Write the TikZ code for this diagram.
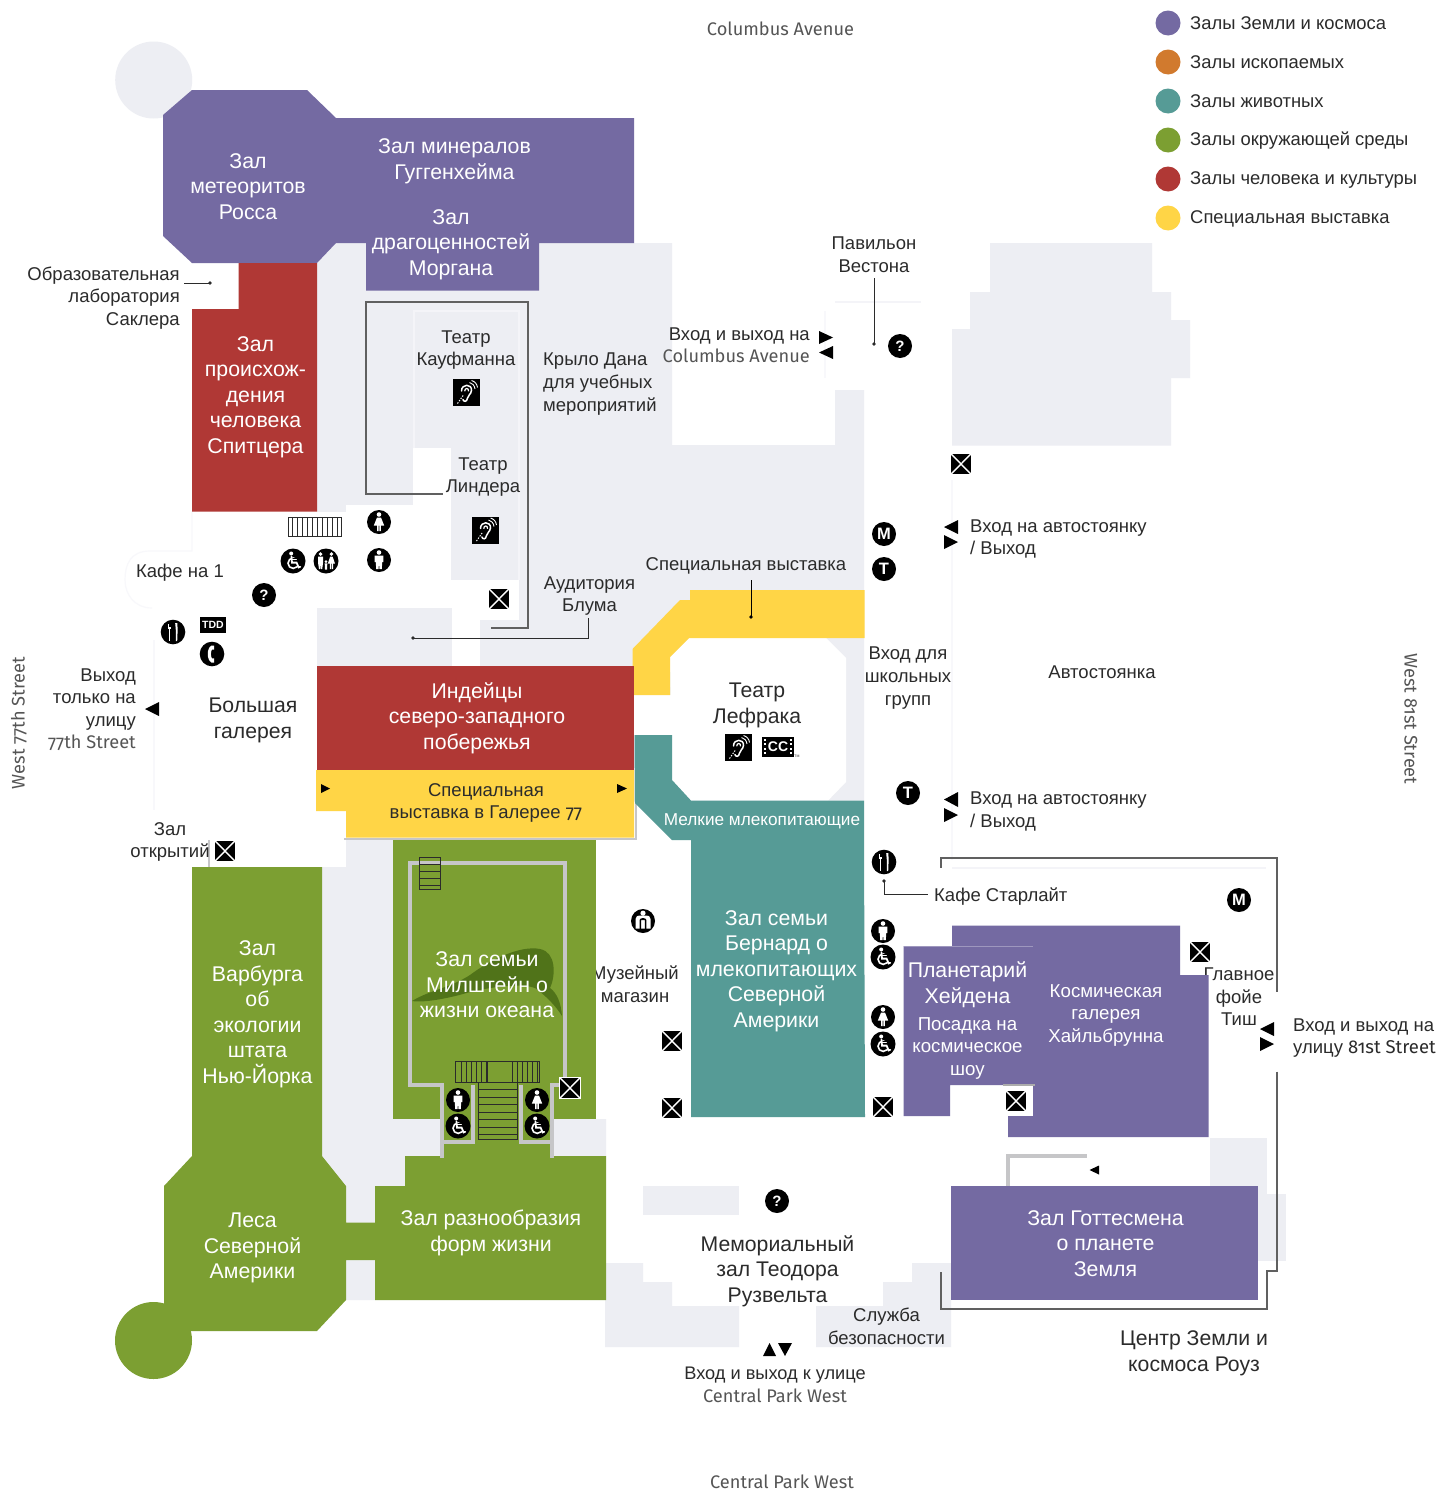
\documentclass[tikz,border=0pt]{standalone}
\usepackage{fontspec}
\setmainfont{Liberation Sans}
\newfontfamily\streetf[Numbers=OldStyle]{Fira Sans}
\definecolor{floorg}{HTML}{EDEEF3}
\definecolor{cpur}{HTML}{746AA2}
\definecolor{cred}{HTML}{B03835}
\definecolor{cyel}{HTML}{FFD546}
\definecolor{cteal}{HTML}{569B96}
\definecolor{cgrn}{HTML}{7C9F32}
\definecolor{corg}{HTML}{D17A2E}
\definecolor{cwhale}{HTML}{507319}
\definecolor{wallg}{HTML}{C6C6C8}
\definecolor{ink}{HTML}{2B2B2B}
\definecolor{faintl}{HTML}{F4F4F8}
\definecolor{fainter}{HTML}{F8F8FB}
\tikzset{
 x=1pt,y=-1pt,
 whitel/.style={text=white,align=center,inner sep=0pt,yshift=-2.2pt,font=\fontsize{21.3}{25.5}\selectfont},
 whites/.style={text=white,align=center,inner sep=0pt,yshift=-2pt,font=\fontsize{18.7}{22.7}\selectfont},
 blackl/.style={text=ink,align=center,inner sep=0pt,yshift=-2.2pt,font=\fontsize{21.2}{25.5}\selectfont},
 blacks/.style={text=ink,align=center,inner sep=0pt,yshift=-2pt,font=\fontsize{18.5}{22.7}\selectfont},
 blackr/.style={blacks,align=right,anchor=east},
 blackle/.style={blacks,align=left,anchor=west},
 legendt/.style={text=ink,align=left,anchor=west,inner sep=0pt,yshift=-.6pt,font=\fontsize{18.4}{22.7}\selectfont},
 streetl/.style={text=ink!80,inner sep=0pt,font=\streetf\fontsize{18.2}{22}\selectfont},
 leader/.style={draw=ink,line width=1pt},
 outl/.style={draw=ink!75,line width=1.1pt},
 wall/.style={draw=wallg,line width=3.2pt},
 faint/.style={draw=faintl,line width=1.2pt},
 fnt/.style={draw=fainter,line width=1.2pt},
 tri/.style={fill=black},
 stairl/.style={draw=ink,line width=.9pt},
 lg/.style={circle,inner sep=0pt,minimum size=25pt},
 wln/.style={draw=white,line width=1.5pt,line cap=round},
 pics/manico/.style={code={
   \fill[black] (0,0) circle[radius=12pt];
   \fill[white] (0,-7.5) circle[radius=2.3pt];
   \fill[white] (-4.4,-4.4) -- (4.4,-4.4) -- (4.4,2.2) -- (3.2,2.2) -- (2.8,9) -- (.5,9) -- (0,3) -- (-.5,9) -- (-2.8,9) -- (-3.2,2.2) -- (-4.4,2.2) -- cycle;}},
 pics/womanico/.style={code={
   \fill[black] (0,0) circle[radius=12pt];
   \fill[white] (0,-7.5) circle[radius=2.3pt];
   \fill[white] (-2,-4.4) -- (2,-4.4) -- (5.2,3.6) -- (1.9,3.6) -- (1.9,9) -- (.4,9) -- (.4,3.6) -- (-.4,3.6) -- (-.4,9) -- (-1.9,9) -- (-1.9,3.6) -- (-5.2,3.6) -- cycle;}},
 pics/wheelico/.style={code={
   \fill[black] (0,0) circle[radius=12.5pt];
   \fill[white] (-1.8,-7.5) circle[radius=2pt];
   \draw[white,line width=1.6pt] (0.2,2.2) circle[radius=5.2pt];
   \fill[black] (-1.4,-3) rectangle (7,3.6);
   \fill[black] (1.5,2) rectangle (7,5);
   \draw[wln,line width=1.8pt] (-1.6,-4.5) -- (-1,1.6) -- (3.6,1.6) -- (5.6,6.4) -- (7.2,5.8);
   \draw[wln,line width=1.4pt] (-1.3,-1.6) -- (3.2,-1.6);}},
 pics/familyico/.style={code={
   \fill[black] (0,0) circle[radius=12.5pt];
   \foreach \hx in {-5.4,5.4}{\fill[white] (\hx,-7) circle[radius=1.9pt];}
   \fill[white] (0,.6) circle[radius=1.4pt];
   \fill[white] (-8,-4.4) -- (-2.9,-4.4) -- (-2.9,1.5) -- (-3.8,8) -- (-5,8) -- (-5.4,3) -- (-5.8,8) -- (-7,8) -- (-8,1.5) -- cycle;
   \fill[white] (4.2,-4.4) -- (6.6,-4.4) -- (9,2.6) -- (7,2.6) -- (7,8) -- (5.8,8) -- (5.8,2.6) -- (5,2.6) -- (5,8) -- (3.8,8) -- (3.8,2.6) -- (1.8,2.6) -- cycle;
   \fill[white] (-1.3,2.4) -- (1.3,2.4) -- (1,8.5) -- (-1,8.5) -- cycle;}},
 pics/infoico/.style={code={
   \fill[black] (0,0) circle[radius=12pt];
   \node[text=white,inner sep=0pt,font=\bfseries\fontsize{15}{15}\selectfont] {?};}},
 pics/letterico/.style={code={
   \fill[black] (0,0) circle[radius=12pt];
   \node[text=white,inner sep=0pt,font=\bfseries\fontsize{16.5}{16}\selectfont] {#1};}},
 pics/foodico/.style={code={
   \fill[black] (0,0) circle[radius=12.3pt];
   \fill[white] (-5.4,-8) rectangle (-1.8,-2.6);
   \fill[black] (-4.2,-8.2) rectangle (-3.8,-4.6);
   \fill[black] (-3.1,-8.2) rectangle (-2.7,-4.6);
   \fill[white] (-4.2,-3) rectangle (-3,9);
   \fill[white] (2.2,-9) -- (4.4,-9) -- (4.6,-1) -- (4.2,9) -- (2.9,9) -- (2.9,-1) -- cycle;}},
 pics/phoneico/.style={code={
   \fill[black] (0,0) circle[radius=12.3pt];
   \fill[white] (-.5,-8.5) .. controls (-5.5,-6) and (-5.5,6) .. (-.5,8.5) -- (2.2,8.5) -- (2.2,4.4) -- (-.1,4.4) .. controls (-1.4,2) and (-1.4,-2) .. (-.1,-4.4) -- (2.2,-4.4) -- (2.2,-8.5) -- cycle;}},
 pics/shopico/.style={code={
   \fill[black] (0,0) circle[radius=12pt];
   \fill[white] (-7.5,7.5) -- (-7.5,-2) .. controls (-7.5,-5) and (-5,-5.5) .. (-3.5,-5.5) -- (3.5,-5.5) .. controls (5,-5.5) and (7.5,-5) .. (7.5,-2) -- (7.5,7.5) -- cycle;
   \fill[white] (0,-7.8) circle[radius=2.6pt];
   \fill[black] (-3.4,8) -- (-3.4,-1) .. controls (-3.4,-3.6) and (3.4,-3.6) .. (3.4,-1) -- (3.4,8) -- (1.8,8) -- (1.8,-.8) -- (-1.8,-.8) -- (-1.8,8) -- cycle;}},
 pics/earico/.style={code={
   \fill[black] (-13.5,-13.5) rectangle (13.5,13.5);
   \draw[white,line width=1.5pt,line cap=round] (-5,-1.5) .. controls (-5,-9) and (5.5,-9) .. (5,-2) .. controls (4.6,2) and (1,3) .. (.8,6) .. controls (.6,9.5) and (-3,9.5) .. (-3.6,7);
   \draw[white,line width=1.2pt] (-1.8,-1.2) .. controls (-1.8,-5) and (2.5,-5) .. (2,-1.2);
   \draw[white,line width=1pt,dash pattern=on 1.4pt off 1.4pt] (-9,11) -- (-3.4,3);
   \draw[white,line width=.9pt] (3,-10) .. controls (6,-9.5) and (8,-7) .. (8.5,-3.5);
   \draw[white,line width=.9pt] (5,-12) .. controls (8.5,-11) and (10.5,-8.5) .. (11,-5);}},
 pics/liftico/.style={code={
   \fill[black] (-10.3,-10.5) rectangle (10.3,10.5);
   \draw[white,line width=.9pt] (-10.3,-10.5) rectangle (10.3,10.5);
   \draw[white,line width=1.4pt] (-10,-10.2) -- (10,10.2);
   \draw[white,line width=1.4pt] (10,-10.2) -- (-10,10.2);}},
}
\begin{document}
\begin{tikzpicture}
\useasboundingbox (0,0) rectangle (1437,1491);
\fill[white] (0,0) rectangle (1437,1491);

% ---- grey floor
\fill[floorg] (153.7,80) circle[radius=38.5pt];
\fill[floorg] (317,243) -- (672,243) -- (672,445) -- (835,445) -- (835,390) -- (864,390) -- (864,800.6) -- (634,800.6) -- (634,666) -- (317,666) -- cycle;
\fill[white] (413,448) rectangle (451,505);
\fill[white] (346,505) rectangle (451,580);
\fill[white] (317,511.5) rectangle (346,608);
\fill[white] (346,580) rectangle (519,608);
\fill[white] (452,608) rectangle (480,666);
\fill[white] (480,608) rectangle (519,620);
\fill[white] (634,695) rectangle (672,735);
\fill[white] (689,638) -- (826,638) -- (846,658) -- (846,782) -- (828,800.6) -- (691,800.6) -- (672,780) -- (670,657) -- cycle;
\draw[faint] (414,448) -- (414,311) -- (519,311) -- (519,580);
\fill[floorg] (322,867) -- (346,867) -- (346,840) -- (393,840) -- (393,1119) -- (606,1119) -- (606,1156) -- (405,1156) -- (405,1186) -- (375,1186) -- (375,1300) -- (346,1300) -- (346,1186) -- (322,1156) -- cycle;
\fill[floorg] (990,243) -- (1152,243) -- (1152,292) -- (1171,292) -- (1171,320) -- (1190,320) -- (1190,378) -- (1171,378) -- (1171,445.7) -- (952,445.7) -- (952,329) -- (970,329) -- (970,292) -- (990,292) -- cycle;
\fill[floorg] (643,1186) rectangle (739,1215);
\fill[floorg] (605,1263) -- (643,1263) -- (643,1282) -- (672,1282) -- (672,1306) -- (739,1306) -- (739,1347) -- (605,1347) -- cycle;
\fill[floorg] (912,1263) -- (951,1263) -- (951,1347) -- (816,1347) -- (816,1306) -- (883,1306) -- (883,1282) -- (912,1282) -- cycle;
\fill[floorg] (1210,1138) rectangle (1267,1186);
\fill[floorg] (1258,1186) rectangle (1267,1194);
\fill[floorg] (1258,1194) rectangle (1286,1261);
\draw[faint] (835,302) -- (921,302);
\draw[fnt] (825,311) -- (825,378);
\draw[fnt] (154,640) -- (154,810);
\draw[fnt] (952,480) -- (952,860);
\draw[faint] (952,868) -- (1266,868);
\draw[fnt] (192,511) -- (192,551) -- (150,551) .. controls (130,551) and (125,565) .. (125,580) .. controls (125,595) and (135,608) .. (152,608);

% ---- labels that the coloured halls overlap
\node[blacks] (lshop) at (635,982.5) {Музейный\\магазин};
\node[blacks] (llobby) at (1239,994.7) {Главное\\фойе\\Тиш};

% ---- halls
\fill[cpur] (192,90) -- (307,90) -- (336,118) -- (634,118) -- (634,243) -- (539,243) -- (539,290.5) -- (366,290.5) -- (366,243) -- (336,243) -- (317,263) -- (192,263) -- (163,236) -- (163,115) -- cycle;
\fill[cred] (238.5,263) -- (317,263) -- (317,511.5) -- (192,511.5) -- (192,309) -- (238.5,309) -- cycle;
\fill[cyel] (690,590) -- (864.5,590) -- (864.5,638) -- (689,638) -- (670,657) -- (670,695) -- (632.5,695) -- (632.5,649) -- (680,600) -- (690,600) -- cycle;
\fill[cred] (317,666) rectangle (634,770);
\fill[cyel] (316,770) -- (634,770) -- (634,837.5) -- (346,837.5) -- (346,811) -- (316,811) -- cycle;
\draw[wall,line width=2.4pt] (344,839) -- (636,839) -- (636,802);
\fill[cteal] (634.5,735) -- (672,735) -- (672,780) -- (691,800.6) -- (864,800.6) -- (864,839) -- (865,1117) -- (691,1117) -- (691,840) -- (672,840) -- (635,803) -- cycle;
\fill[cgrn] (192,867) -- (322,867) -- (322,1156) -- (346,1186) -- (346,1222.5) -- (375,1222.5) -- (375,1186) -- (405,1186) -- (405,1156) -- (606,1156) -- (606,1300) -- (375,1300) -- (375,1260) -- (346,1260) -- (346,1300) -- (317,1331) -- (164,1331) -- (164,1186) -- (192,1156) -- cycle;
\fill[cgrn] (153.5,1340.5) circle[radius=38.5pt];
\fill[cgrn] (393,840) rectangle (596,1119);
\fill[cgrn] (442,1119) rectangle (553,1156);
\fill[cpur] (952,925.7) -- (1180,925.7) -- (1180,975) -- (1208.7,975) -- (1208.7,1137) -- (1008,1137) -- (1008,1116) -- (1033,1116) -- (1033,1085) -- (950,1085) -- (950,1116) -- (903.5,1116) -- (903.5,946) -- (952,946) -- cycle;
\draw[cpur!70!white,line width=.8pt] (904,946) -- (1033,946);
\draw[draw=gray!65,line width=2.4pt] (1003,1085) -- (1034.5,1085);
\fill[cpur] (951,1186) rectangle (1258,1300);

% ---- whale
\fill[cwhale] (412,1001) .. controls (430,990) and (450,988) .. (470,975) .. controls (490,960) and (520,945) .. (540,949) .. controls (556,952) and (556,975) .. (550,988) .. controls (557,993) and (561,1003) .. (562,1016) .. controls (556,1006) and (545,995) .. (535,988) .. controls (525,984) and (500,985) .. (470,992) .. controls (450,998) and (425,1003) .. (412,1001) -- cycle;

% ---- inner walls
\draw[wall] (442,1158) -- (442,1085) -- (410,1085) -- (410,863) -- (565,863) -- (565,1080);
\draw[wall] (552,1158) -- (552,1085) -- (566,1085);
\draw[wall] (442,1142) -- (473,1142) -- (473,1085);
\draw[wall] (552,1142) -- (521,1142) -- (521,1085);
\draw[wall] (1008,1186) -- (1008,1156) -- (1087,1156);
\draw[wall,line width=2.4pt] (209,840) -- (209,867);

% ---- outlines
\draw[outl] (442.5,494) -- (366,494) -- (366,302) -- (528,302) -- (528,628) -- (491,628);
\draw[outl] (941,867.7) -- (941,858) -- (1277,858) -- (1277,991.7);
\draw[outl] (1277,1071.7) -- (1277,1271) -- (1267,1271) -- (1267,1309) -- (941,1309) -- (941,1271.7);

% ---- stairs
\draw[stairl,fill=white] (288,517) rectangle (341.5,536.5);
\foreach \sx in {292,297,...,337}{\draw[stairl] (\sx,517) -- (\sx,536.5);}
\draw[stairl] (419,857) rectangle (440.7,889);
\foreach \sy in {864,871,878,885}{\draw[stairl] (419,\sy) -- (440.7,\sy);}
\draw[stairl] (455,1061) rectangle (539,1082);
\foreach \sx in {461,466,...,486,512,517,...,537}{\draw[stairl] (\sx,1061) -- (\sx,1082);}
\draw[stairl] (487,1061) -- (487,1082);
\draw[stairl] (478,1082) rectangle (517,1139);
\foreach \sy in {1089.5,1097,...,1135}{\draw[stairl] (478,\sy) -- (517,\sy);}

% ---- street names and legend
\node[streetl] (avecol) at (780.5,29) {Columbus Avenue};
\node[streetl] (avecpw) at (782,1482) {Central Park West};
\node[streetl,rotate=90] (st77) at (19,723) {West 77th Street};
\node[streetl,rotate=-90] (st81) at (1411,719) {West 81st Street};
\foreach \ly/\lc/\lt in {23/cpur/Залы Земли и космоса,62/corg/Залы ископаемых,101/cteal/Залы животных,140/cgrn/Залы окружающей среды,179/cred/Залы человека и культуры,218/cyel/Специальная выставка}{
  \node[lg,fill=\lc] at (1168,\ly) {};
  \node[legendt] at (1190,\ly) {\lt};
}

% ---- hall names
\node[whitel] (ross) at (248,184) {Зал\\метеоритов\\Росса};
\node[whitel] (gugg) at (454.5,159.3) {Зал минералов\\Гуггенхейма};
\node[whitel] (morg) at (451,242.3) {Зал\\драгоценностей\\Моргана};
\node[whitel] (spit) at (255.5,394.6) {Зал\\происхож-\\дения\\человека\\Спитцера};
\node[whitel] (indn) at (477,716) {Индейцы\\северо-западного\\побережья};
\node[whites,font=\fontsize{17.2}{20}\selectfont] (smam) at (762,819) {Мелкие млекопитающие};
\node[whitel] (bern) at (776.5,969) {Зал семьи\\Бернард о\\млекопитающих\\Северной\\Америки};
\node[whitel] (milst) at (487,982.5) {Зал семьи\\Милштейн о\\жизни океана};
\node[whitel] (warb) at (257.5,1012) {Зал\\Варбурга\\об\\экологии\\штата\\Нью-Йорка};
\node[whitel] (lesa) at (252.5,1246) {Леса\\Северной\\Америки};
\node[whitel] (biod) at (491,1230.7) {Зал разнообразия\\форм жизни};
\node[whitel] (hayd) at (967.5,982.7) {Планетарий\\Хейдена};
\node[whites] (board) at (967.5,1046.2) {Посадка на\\космическое\\шоу};
\node[whites] (heil) at (1106,1013.2) {Космическая\\галерея\\Хайльбрунна};
\node[whitel] (gott) at (1105.5,1241) {Зал Готтесмена\\о планете\\Земля};

% ---- black labels
\node[blackr] (sack) at (180,296) {Образовательная\\лаборатория\\Саклера};
\node[blacks] (kauf) at (466,348) {Театр\\Кауфманна};
\node[blacks] (lind) at (483,475) {Театр\\Линдера};
\node[blackle] (dana) at (543,382) {Крыло Дана\\для учебных\\мероприятий};
\node[blackr] (colin) at (810,334) {Вход и выход на};
\node[streetl,anchor=east] (colst) at (810,356) {Columbus Avenue};
\node[blacks] (west) at (874,253) {Павильон\\Вестона};
\node[blackle] (park1) at (970,537) {Вход на автостоянку\\/ Выход};
\node[blacks] (spec) at (746,564) {Специальная выставка};
\node[blacks] (blum) at (589.5,594) {Аудитория\\Блума};
\node[blacks] (cafe) at (180,571) {Кафе на 1};
\node[blackr] (exit) at (136,697.5) {Выход\\только на\\улицу};
\node[streetl,anchor=east] (exit77) at (136,743) {77th Street};
\node[blackl] (bolsh) at (253,718) {Большая\\галерея};
\node[blacks] (g77) at (486,801) {Специальная\\выставка в Галерее {\streetf 77}};
\node[blackl] (lefr) at (757,703) {Театр\\Лефрака};
\node[blacks] (schl) at (908,676) {Вход для\\школьных\\групп};
\node[blacks] (parkg) at (1102,670) {Автостоянка};
\node[blackle] (park2) at (970,809.7) {Вход на автостоянку\\/ Выход};
\node[blacks] (opnh) at (170,840) {Зал\\открытий};
\node[blackle] (star) at (934,895) {Кафе Старлайт};
\node[blackl] (roos) at (777.5,1268.8) {Мемориальный\\зал Теодора\\Рузвельта};
\node[blacks] (secu) at (886.5,1324) {Служба\\безопасности};
\node[blacks,font=\fontsize{18.2}{22}\selectfont] (cpin) at (775,1373) {Вход и выход к улице};
\node[streetl] (cpst) at (775,1396) {Central Park West};
\node[blackle] (st81in) at (1293,1036) {Вход и выход на\\улицу {\streetf 81st Street}};
\node[blackl] (rose) at (1194,1351) {Центр Земли и\\космоса Роуз};

% ---- leaders
\coordinate (sackA) at (184,283); \coordinate (sackB) at (210,283);
\draw[leader] (sackA) -- (sackB); \fill[ink] (sackB) circle[radius=1.8pt];
\coordinate (blumA) at (588.4,618); \coordinate (blumB) at (588.4,638); \coordinate (blumC) at (413,638);
\draw[leader] (blumA) -- (blumB) -- (blumC); \fill[ink] (blumC) circle[radius=1.8pt];
\coordinate (specA) at (751,580); \coordinate (specB) at (751,617);
\draw[leader,draw=black] (specA) -- (specB); \fill[black] (specB) circle[radius=1.8pt];
\coordinate (westA) at (874,278); \coordinate (westB) at (874,344);
\draw[leader] (westA) -- (westB); \fill[ink] (westB) circle[radius=1.8pt];
\coordinate (starA) at (884,881); \coordinate (starB) at (884,894); \coordinate (starC) at (928,894);
\draw[leader] (starA) -- (starB) -- (starC); \fill[ink] (starA) circle[radius=1.8pt];

% ---- direction triangles
\fill[tri] (819,331) -- (833,337.5) -- (819,344) -- cycle;
\fill[tri] (833,346) -- (819,352.5) -- (833,359) -- cycle;
\fill[tri] (958,520) -- (944,527) -- (958,534) -- cycle;
\fill[tri] (944,535) -- (958,542) -- (944,549) -- cycle;
\fill[tri] (958,792) -- (944,799.5) -- (958,807) -- cycle;
\fill[tri] (944,808) -- (958,815) -- (944,822) -- cycle;
\fill[tri] (1274,1022) -- (1260,1029) -- (1274,1036) -- cycle;
\fill[tri] (1260,1037) -- (1274,1044) -- (1260,1051) -- cycle;
\fill[tri] (159,702) -- (145,709) -- (159,716) -- cycle;
\fill[tri] (321,784) -- (330,788.5) -- (321,793) -- cycle;
\fill[tri] (617,784) -- (627,788.5) -- (617,793) -- cycle;
\fill[tri] (763,1356) -- (769.5,1343) -- (776,1356) -- cycle;
\fill[tri] (778,1343) -- (792,1343) -- (785,1356) -- cycle;
\fill[tri] (1099,1165.5) -- (1089.5,1170) -- (1099,1174.5) -- cycle;

% ---- service icons
\pic at (379,522) {womanico};
\pic at (379,560) {manico};
\pic at (293,561) {wheelico};
\pic at (326,561) {familyico};
\pic at (264,595) {infoico};
\pic at (173,632) {foodico};
\fill[black] (200,617) rectangle (226,633);
\node[text=white,inner sep=0pt,font=\bfseries\fontsize{10.5}{10}\selectfont] (tdd) at (213,625) {TDD};
\pic at (212,654) {phoneico};
\pic at (466.5,392.5) {earico};
\pic at (485.5,530) {earico};
\pic at (738.5,747.5) {earico};
\fill[black] (762,737) rectangle (794,757);
\foreach \cy in {740,744.3,748.6,753}{\fill[white] (764,\cy-1) rectangle (766,\cy+1); \fill[white] (790,\cy-1) rectangle (792,\cy+1);}
\node[text=white,inner sep=0pt,font=\bfseries\fontsize{14}{14}\selectfont] (cc) at (778,747) {CC};
\node[text=ink,inner sep=0pt,font=\fontsize{3.5}{4}\selectfont] (tmk) at (797,756) {TM};
\pic at (884,534) {letterico=M};
\pic at (884,569) {letterico=T};
\pic at (908,793) {letterico=T};
\pic at (1239,900) {letterico=M};
\pic at (900,346) {infoico};
\pic at (777,1201) {infoico};
\pic at (884,862) {foodico};
\pic at (883,931) {manico};
\pic at (883,957) {wheelico};
\pic at (883,1017) {womanico};
\pic at (883,1044) {wheelico};
\pic at (643,921) {shopico};
\pic at (458,1100) {manico};
\pic at (458,1126) {wheelico};
\pic at (537,1100) {womanico};
\pic at (537,1126) {wheelico};
\fill[white] (1003,1086.5) rectangle (1033,1116);
\foreach \ex/\ey in {225/851,961/464,499/599,570/1088,672/1041,672/1108,883/1107,1016/1101,1200/952}{
  \pic at (\ex,\ey) {liftico};
}
\end{tikzpicture}
\end{document}
